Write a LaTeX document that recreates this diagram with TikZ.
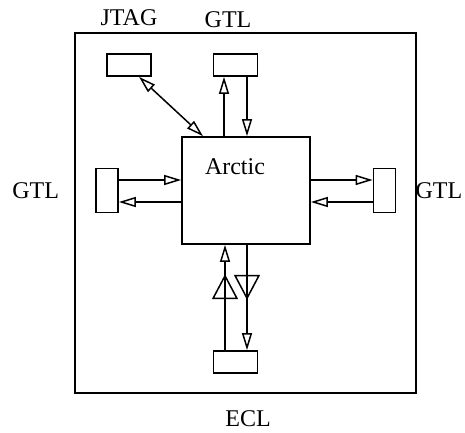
\documentclass[tikz,border=0pt]{standalone}
\usepackage{fontspec}
\setmainfont{Liberation Serif}
\usetikzlibrary{arrows.meta,positioning,decorations.markings}
\tikzset{
  board/.style={
    draw,
    line width=1.8pt,
    minimum width=341pt,
    minimum height=360pt,
    inner sep=0pt
  },
  chip/.style={
    draw,
    line width=1.7pt,
    minimum width=128pt,
    minimum height=107pt,
    inner sep=0pt
  },
  portw/.style={
    draw,
    line width=1.7pt,
    minimum width=44pt,
    minimum height=22pt,
    inner sep=0pt
  },
  porth/.style={
    draw,
    line width=1.7pt,
    minimum width=22pt,
    minimum height=44pt,
    inner sep=0pt
  },
  tag/.style={font=\fontsize{24}{29}\selectfont, inner sep=0pt},
  flow/.style={-{Triangle[open,length=17pt,width=10pt]}, line width=1.5pt},
  bothflow/.style={{Triangle[open,length=17pt,width=10pt]}-{Triangle[open,length=17pt,width=10pt]}, line width=1.5pt},
  midtri/.style={postaction={decorate, decoration={markings,
    mark=at position #1 with {\arrow{Triangle[open,length=25pt,width=26pt]}}}}}
}
\begin{document}
\begin{tikzpicture}[x=1pt, y=-1pt]
  \useasboundingbox (0,0) rectangle (465,432);
  \node[board] (board) at (245.5,213) {};
  \node[chip] (arctic) at (246,190.5) {};
  \node[tag] (arcticname) at (235,166.5) {Arctic};
  \node[portw] (jtag) at (129,65) {};
  \node[portw] (gtltop) at (235.5,65) {};
  \node[porth] (gtlleft) at (107,190.5) {};
  \node[porth] (gtlright) at (384.5,190.5) {};
  \node[portw] (eclport) at (235.5,362) {};

  % labels round the board
  \node[tag, above=27pt of jtag] (jtaglabel) {JTAG};
  \node[tag] (gtltoplabel) at (228,19.5) {GTL};
  \node[tag, left=36pt of gtlleft] (gtlleftlabel) {GTL};
  \node[tag, right=19pt of gtlright] (gtlrightlabel) {GTL};
  \node[tag, below=16pt of board.south, xshift=2.5pt] (ecllabel) {ECL};

  \draw[bothflow] ([xshift=10pt]jtag.south) -- ([xshift=-43pt]arctic.north);
  \draw[flow] ([xshift=-22pt]arctic.north) -- ([xshift=-11.5pt]gtltop.south);
  \draw[flow] ([xshift=11.5pt]gtltop.south) -- ([xshift=1pt]arctic.north);
  \draw[flow] ([yshift=10.5pt]gtlleft.east) -- ([yshift=10.5pt]arctic.west);
  \draw[flow] ([yshift=-11.5pt]arctic.west) -- ([yshift=-11.5pt]gtlleft.east);
  \draw[flow] ([yshift=10.5pt]arctic.east) -- ([yshift=10.5pt]gtlright.west);
  \draw[flow] ([yshift=-11.5pt]gtlright.west) -- ([yshift=-11.5pt]arctic.east);
  \draw[flow, midtri=76pt] ([xshift=-10.5pt]eclport.north) -- ([xshift=-21pt]arctic.south);
  \draw[flow, midtri=55pt] ([xshift=1pt]arctic.south) -- ([xshift=11.5pt]eclport.north);
\end{tikzpicture}
\end{document}
